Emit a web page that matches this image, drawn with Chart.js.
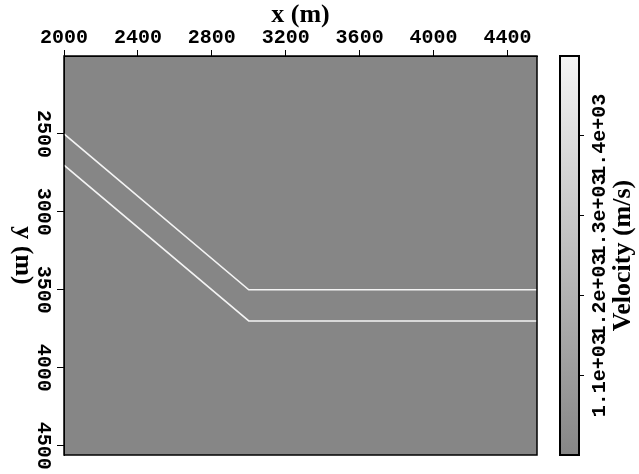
<!DOCTYPE html>
<html>
<head>
<meta charset="utf-8">
<script src="https://cdn.jsdelivr.net/npm/chart.js@4.4.1/dist/chart.umd.min.js"></script>
<style>
  html, body { margin: 0; padding: 0; background: #fff; }
  #wrap { position: relative; width: 639px; height: 474px; }
  #wrap canvas { position: absolute; left: 0; top: 0; }
</style>
</head>
<body>
<div id="wrap">
  <canvas id="model" width="639" height="474"></canvas>
  <canvas id="colorbar" width="639" height="474"></canvas>
</div>
<script>
// axis ranges and ticks
const xRange = [2000, 4560];
const yRange = [2000, 4560];
const xTicks = [2000, 2400, 2800, 3200, 3600, 4000, 4400];
const yTicks = [2500, 3000, 3500, 4000, 4500];

// velocity scale (colorbar)
const vRange = [1000, 1500];
const vTicks = [1100, 1200, 1300, 1400];
const vTickLabels = ["1.1e+03", "1.2e+03", "1.3e+03", "1.4e+03"];

// the two reflectors
const reflector1X = [2000, 3000, 4560];
const reflector1Y = [2500, 3500, 3500];
const reflector2X = [2000, 3000, 4560];
const reflector2Y = [2700, 3700, 3700];

const backgroundVelocity = 1000;
const reflectorVelocity = 1500;

const tickFont = { family: "'Liberation Mono', monospace", size: 20, weight: "bold" };
const titleFont = "bold 26px 'Liberation Serif', serif";

// gray colormap, dark at low velocity, white at high
function grayFor(v) {
  const t = (v - vRange[0]) / (vRange[1] - vRange[0]);
  const g = Math.round(134 + t * (244 - 134));
  return "rgb(" + g + "," + g + "," + g + ")";
}

function toPoints(xs, ys) {
  return xs.map((x, i) => ({ x: x, y: ys[i] }));
}

// background fill, frame and rotated y title
const modelPlugin = {
  id: "modelFrame",
  beforeDraw(chart) {
    const a = chart.chartArea;
    const ctx = chart.ctx;
    ctx.save();
    ctx.fillStyle = grayFor(backgroundVelocity);
    ctx.fillRect(a.left, a.top, a.right - a.left, a.bottom - a.top);
    ctx.restore();
  },
  afterDraw(chart) {
    const a = chart.chartArea;
    const ctx = chart.ctx;
    ctx.save();
    ctx.strokeStyle = "#000";
    ctx.lineWidth = 1.5;
    ctx.strokeRect(a.left, a.top, a.right - a.left, a.bottom - a.top);
    ctx.fillStyle = "#000";
    ctx.font = titleFont;
    ctx.textAlign = "center";
    ctx.textBaseline = "middle";
    ctx.translate(23, (a.top + a.bottom) / 2);
    ctx.rotate(Math.PI / 2);
    ctx.fillText("y (m)", 0, 0);
    ctx.restore();
  },
};

new Chart(document.getElementById("model"), {
  type: "scatter",
  data: {
    datasets: [
      {
        data: toPoints(reflector1X, reflector1Y),
        showLine: true,
        borderColor: grayFor(reflectorVelocity),
        borderWidth: 1.6,
        pointRadius: 0,
      },
      {
        data: toPoints(reflector2X, reflector2Y),
        showLine: true,
        borderColor: grayFor(reflectorVelocity),
        borderWidth: 1.6,
        pointRadius: 0,
      },
    ],
  },
  options: {
    responsive: false,
    animation: false,
    layout: { padding: { left: 0, top: 0, right: 102, bottom: 19 } },
    plugins: { legend: { display: false }, tooltip: { enabled: false } },
    scales: {
      x: {
        type: "linear",
        position: "top",
        min: xRange[0],
        max: xRange[1],
        afterBuildTicks: (s) => { s.ticks = xTicks.map((v) => ({ value: v })); },
        afterFit: (s) => { s.height = 56; },
        grid: { drawOnChartArea: false, drawTicks: true, tickLength: 6, color: "#000" },
        border: { display: true, color: "#000" },
        ticks: {
          color: "#000",
          font: tickFont,
          padding: 0,
          autoSkip: false,
          minRotation: 0,
          maxRotation: 0,
          callback: (v) => String(v),
        },
        title: {
          display: true,
          text: "x (m)",
          color: "#000",
          font: { family: "'Liberation Serif', serif", size: 26, weight: "bold" },
          padding: { top: 0, bottom: 0 },
        },
      },
      y: {
        type: "linear",
        reverse: true,
        min: yRange[0],
        max: yRange[1],
        afterBuildTicks: (s) => { s.ticks = yTicks.map((v) => ({ value: v })); },
        afterFit: (s) => { s.width = 64; },
        grid: { drawOnChartArea: false, drawTicks: true, tickLength: 7, color: "#000" },
        border: { display: true, color: "#000" },
        ticks: {
          color: "#000",
          font: tickFont,
          padding: -10,
          autoSkip: false,
          minRotation: -90,
          crossAlign: "center",
          callback: (v) => String(v),
        },
      },
    },
  },
  plugins: [modelPlugin],
});

// gradient bar, frame and rotated colorbar title
const colorbarPlugin = {
  id: "colorbarFill",
  beforeDraw(chart) {
    const a = chart.chartArea;
    const y = chart.scales.y;
    const ctx = chart.ctx;
    const y0 = y.getPixelForValue(vRange[0]);
    const y1 = y.getPixelForValue(vRange[1]);
    const grad = ctx.createLinearGradient(0, y0, 0, y1);
    grad.addColorStop(0, grayFor(vRange[0]));
    grad.addColorStop(1, grayFor(vRange[1]));
    ctx.save();
    ctx.fillStyle = grad;
    ctx.fillRect(a.left, a.top, a.right - a.left, a.bottom - a.top);
    ctx.restore();
  },
  afterDraw(chart) {
    const a = chart.chartArea;
    const ctx = chart.ctx;
    ctx.save();
    ctx.strokeStyle = "#000";
    ctx.lineWidth = 2;
    ctx.strokeRect(a.left, a.top, a.right - a.left, a.bottom - a.top);
    ctx.fillStyle = "#000";
    ctx.font = titleFont;
    ctx.textAlign = "center";
    ctx.textBaseline = "middle";
    ctx.translate(623, (a.top + a.bottom) / 2);
    ctx.rotate(-Math.PI / 2);
    ctx.fillText("Velocity (m/s)", 0, 0);
    ctx.restore();
  },
};

new Chart(document.getElementById("colorbar"), {
  type: "scatter",
  data: { datasets: [] },
  options: {
    responsive: false,
    animation: false,
    layout: { padding: { left: 560, top: 56, right: 0, bottom: 19 } },
    plugins: { legend: { display: false }, tooltip: { enabled: false } },
    scales: {
      x: { display: false, min: 0, max: 1 },
      y: {
        type: "linear",
        position: "right",
        min: vRange[0],
        max: vRange[1],
        afterBuildTicks: (s) => { s.ticks = vTicks.map((v) => ({ value: v })); },
        afterFit: (s) => { s.width = 60; },
        grid: { drawOnChartArea: false, drawTicks: true, tickLength: 5, color: "#000" },
        border: { display: true, color: "#000" },
        ticks: {
          color: "#000",
          font: tickFont,
          padding: -26,
          autoSkip: false,
          minRotation: 90,
          crossAlign: "center",
          callback: (v) => vTickLabels[vTicks.indexOf(v)],
        },
      },
    },
  },
  plugins: [colorbarPlugin],
});
</script>
</body>
</html>
